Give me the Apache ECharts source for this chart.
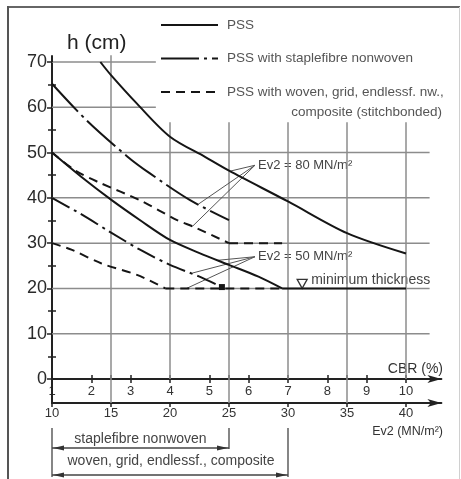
<!DOCTYPE html>
<html><head><meta charset="utf-8">
<script src="https://cdn.jsdelivr.net/npm/echarts@6/dist/echarts.min.js"></script>
<style>html,body{margin:0;padding:0;background:#fff}#c{width:461px;height:479px}</style>
</head><body><div id="c"></div>
<script>
// ---- data (Ev2 in MN/m², h in cm) ----
const ev2Ticks = [10, 15, 20, 25, 30, 35, 40];
const cbrTicks = [1, 2, 3, 4, 5, 6, 7, 8, 9, 10];
const hTicks = [0, 10, 20, 30, 40, 50, 60, 70];
const legendNames = ['PSS', 'PSS with staplefibre nonwoven', 'PSS with woven, grid, endlessf. nw.,'];

const solid80 = [[14.1,70],[15,67.1],[17.2,60.8],[20,53.5],[23,49],[25,46],[30,39.2],[35,32.2],[40,27.7]];
const solid50 = [[10,50],[12.5,44.6],[15,39.6],[17.5,35],[20,30.7],[22.5,27.8],[25,25.2],[27.5,22.6],[29.5,20]];
const minThickness = [[29.5,20],[40,20]];
const dashdot80 = [[10,65.2],[12.9,57.2],[16.4,49.1],[18.3,45.4],[21.7,39.5],[25,35.1]];
const dashdot50 = [[10,40],[12.4,36.5],[14.9,32.5],[17.5,28.5],[20,25.2],[22.5,22.6],[24.4,20.3]];
const dashed80 = [[10,50],[12,46],[14,43.4],[17.5,39.4],[20.6,35.1],[22,33.6],[25,30]];
const dashed80Flat = [[25,30],[29.5,30]];
const dashed50 = [[10,30],[11.7,28.5],[14.2,25.5],[17.2,23],[19.6,20]];
const dashed50Flat = [[19.6,20],[29.5,20]];
const leaderApex80 = [27.2, 47.2];
const leaderTargets80 = [[25.1,45.9],[22.4,38.6],[21.9,33.7]];
const leaderApex50 = [27.2, 27.0];
const leaderTargets50 = [[24,26.2],[21.9,23.4],[21.4,20]];
const hGridLong = [10, 20, 30, 40, 50];
const hGridShort = [60, 70];
const vGridUpper = [20, 25, 30, 35, 40];
const vGridThrough = [15, 25, 35];
const staplefibreRange = [10, 25];
const wovenRange = [10, 30];

// ---- chart ----
const FONT = '"Liberation Sans", Arial, sans-serif';
const ev2Min = 10, ev2Max = 43;
const toCbr = v => 1 + (v - 10) * 0.3;
const GRID = '#8c8c8c', INK = '#151515', AX = '#222';
const chart = echarts.init(document.getElementById('c'));

const seg = (pts, color, width, z) => ({
  type: 'line', data: pts, xAxisIndex: 0, yAxisIndex: 0, symbol: 'none', clip: false, silent: true,
  lineStyle: { color: color, width: width }, z: z || 1, animation: false
});
const curve = (name, data, dash, extra) => Object.assign({
  type: 'line', name: name, data: data, xAxisIndex: 0, yAxisIndex: 0, symbol: 'none', smooth: 0.3,
  silent: true, lineStyle: { color: INK, width: 2, type: dash }, itemStyle: { color: INK }, z: 5, animation: false
}, extra || {});

const series = [];
hGridLong.forEach(h => series.push(seg([[10, h], [42, h]], GRID, 1.5)));
hGridShort.forEach(h => series.push(seg([[10, h], [18.8, h]], GRID, 1.5)));
vGridUpper.forEach(v => series.push(seg([[v, 0], [v, 56.7]], GRID, 1.5)));
series.push(seg([[15, 0], [15, 71.5]], GRID, 1.5));
vGridThrough.forEach(v => series.push(seg([[v, -5.3], [v, 0]], GRID, 1.5)));
series.push(seg([[10, 70], [10, 71.5]], AX, 2, 3));
series.push(seg([[10, -5.3], [10, 0]], AX, 2, 3));
series.push(seg([[9, -5.3], [10, -5.3]], AX, 2, 3));

const DASH = [9, 6], DASHDOT80 = [38, 5, 3, 5], DASHDOT50 = [20, 5, 3, 5];
series.push(curve(legendNames[0], solid80, 'solid'));
series.push(curve(legendNames[0], solid50, 'solid'));
series.push(curve(legendNames[0], minThickness, 'solid', { smooth: false }));
series.push(curve(legendNames[1], dashdot80, DASHDOT80));
const dd50 = dashdot50.map((p, i) => i === dashdot50.length - 1 ? { value: p, symbol: 'rect', symbolSize: 6 } : p);
series.push(curve(legendNames[1], dd50, DASHDOT50));
series.push(curve(legendNames[2], dashed80, DASH));
series.push(curve(legendNames[2], dashed80Flat, DASH, { smooth: false }));
series.push(curve(legendNames[2], dashed50, DASH));
series.push(curve(legendNames[2], dashed50Flat, DASH, { smooth: false }));
[[leaderApex80, leaderTargets80], [leaderApex50, leaderTargets50]].forEach(([a, ts]) =>
  ts.forEach(t => series.push(seg([a, t], '#555', 1, 4))));

const axisLine = { show: true, onZero: false, symbol: ['none', 'arrow'], symbolSize: [6, 14], lineStyle: { color: AX, width: 2 } };
const xLabel = { fontSize: 13, color: '#333', fontFamily: FONT };

const option = {
  animation: false,
  grid: { left: 52, right: 461 - (52 + (ev2Max - ev2Min) * 11.8), top: 62, bottom: 100, containLabel: false },
  legend: {
    data: legendNames, orient: 'vertical', left: 160, top: 18, padding: 0, itemWidth: 57, itemHeight: 14, itemGap: 19.5,
    selectedMode: false, textStyle: { fontSize: 13.5, color: '#555', fontFamily: FONT, padding: [0, 0, 0, 4] },
    itemStyle: { color: 'rgba(0,0,0,0)', borderWidth: 0, opacity: 0 }
  },
  xAxis: [
    { type: 'value', min: ev2Min, max: ev2Max, position: 'bottom', offset: 24, axisLine: axisLine,
      axisTick: { show: true, customValues: ev2Ticks, length: 4, lineStyle: { color: AX, width: 1.5 } },
      axisLabel: Object.assign({ customValues: ev2Ticks, margin: 4 }, xLabel), splitLine: { show: false } },
    { type: 'value', min: 1, max: toCbr(ev2Max), position: 'bottom', offset: 0, axisLine: axisLine,
      axisTick: { show: true, customValues: cbrTicks, length: 4, lineStyle: { color: AX, width: 1.5 } },
      axisLabel: Object.assign({ customValues: cbrTicks, margin: 6 }, xLabel), splitLine: { show: false } },
    { type: 'value', min: ev2Min, max: ev2Max, position: 'bottom', offset: 24, axisLine: { show: false },
      axisTick: { show: true, inside: true, customValues: ev2Ticks, length: 4, lineStyle: { color: AX, width: 1.5 } },
      axisLabel: { show: false }, splitLine: { show: false } },
    { type: 'value', min: 1, max: toCbr(ev2Max), position: 'bottom', offset: 0, axisLine: { show: false },
      axisTick: { show: true, inside: true, customValues: cbrTicks, length: 4, lineStyle: { color: AX, width: 1.5 } },
      axisLabel: { show: false }, splitLine: { show: false } }
  ],
  yAxis: [
    { type: 'value', min: 0, max: 70, interval: 10, position: 'left',
      axisLine: { show: true, onZero: false, lineStyle: { color: AX, width: 2 } },
      axisTick: { show: true, length: 5, lineStyle: { color: AX, width: 1.5 } },
      minorTick: { show: true, splitNumber: 2, length: 4, lineStyle: { color: AX, width: 1.5 } },
      axisLabel: { fontSize: 18, color: '#2a2a2a', margin: 5, fontFamily: FONT, customValues: hTicks },
      splitLine: { show: false } },
    { type: 'value', min: 0, max: 70, interval: 10, position: 'left',
      axisLine: { show: false, onZero: false },
      axisTick: { show: true, inside: true, length: 0.01, lineStyle: { color: AX, width: 1.5 } },
      minorTick: { show: true, splitNumber: 2, length: 4, lineStyle: { color: AX, width: 1.5 } },
      axisLabel: { show: false }, splitLine: { show: false } }
  ],
  series: series
};
chart.setOption(option);

const X = v => chart.convertToPixel({ xAxisIndex: 0 }, v);
const Y = v => chart.convertToPixel({ yAxisIndex: 0 }, v);
const txt = (text, x, y, size, color, align, extra) => ({
  type: 'text', x: x, y: y, silent: true,
  style: Object.assign({ text: text, fontSize: size, fill: color, fontFamily: FONT, align: align || 'left', verticalAlign: 'middle' }, extra || {})
});
const ln = (x1, y1, x2, y2, color, w) => ({ type: 'line', silent: true, shape: { x1, y1, x2, y2 }, style: { stroke: color, lineWidth: w } });
const tri = (pts) => ({ type: 'polygon', silent: true, shape: { points: pts }, style: { fill: '#333' } });

const g = [];
// frame
g.push(ln(8, 7, 460, 7, '#666', 2));
g.push(ln(8, 6, 8, 479, '#555', 2));
g.push(ln(459.5, 7, 459.5, 479, '#d0d0d0', 1));
// titles
g.push(txt('h (cm)', 67, 43, 21, '#222'));
g.push(txt('composite (stitchbonded)', 442, 112, 13.5, '#555', 'right'));
g.push(txt('CBR (%)', 443, 369, 14, '#333', 'right'));
g.push(txt('Ev2 (MN/m²)', 443, 432, 12.5, '#333', 'right'));
// annotations
g.push(txt('Ev2 = 80 MN/m²', X(leaderApex80[0]) + 3, Y(leaderApex80[1]), 13, '#444'));
g.push(txt('Ev2 = 50 MN/m²', X(leaderApex50[0]) + 3, Y(leaderApex50[1]), 13, '#444'));
const tx = X(31.2), ty = Y(20);
g.push({ type: 'polygon', silent: true, shape: { points: [[tx - 5, ty - 9], [tx + 5, ty - 9], [tx, ty]] }, style: { fill: 'none', stroke: '#333', lineWidth: 1.3 } });
g.push(txt('minimum thickness', tx + 9, ty - 8, 14, '#444'));
// brackets
const bx0 = X(staplefibreRange[0]), bx1 = X(staplefibreRange[1]), bx2 = X(wovenRange[1]);
g.push(ln(bx0, 428, bx0, 477, '#444', 1.3));
g.push(ln(bx1, 428, bx1, 449, '#444', 1.3));
g.push(ln(bx2, 428, bx2, 477, '#444', 1.3));
g.push(ln(bx0, 448, bx1, 448, '#444', 1.3));
g.push(ln(bx0, 475, bx2, 475, '#444', 1.3));
g.push(tri([[bx0 + 1, 448], [bx0 + 12, 445.5], [bx0 + 12, 450.5]]));
g.push(tri([[bx1 - 1, 448], [bx1 - 12, 445.5], [bx1 - 12, 450.5]]));
g.push(tri([[bx0 + 1, 475], [bx0 + 12, 472.5], [bx0 + 12, 477.5]]));
g.push(tri([[bx2 - 1, 475], [bx2 - 12, 472.5], [bx2 - 12, 477.5]]));
g.push(txt('staplefibre nonwoven', (bx0 + bx1) / 2, 439, 14, '#444', 'center'));
g.push(txt('woven, grid, endlessf., composite', (bx0 + bx2) / 2 + 1, 461, 14, '#444', 'center'));
chart.setOption({ graphic: { elements: g } });
</script></body></html>
